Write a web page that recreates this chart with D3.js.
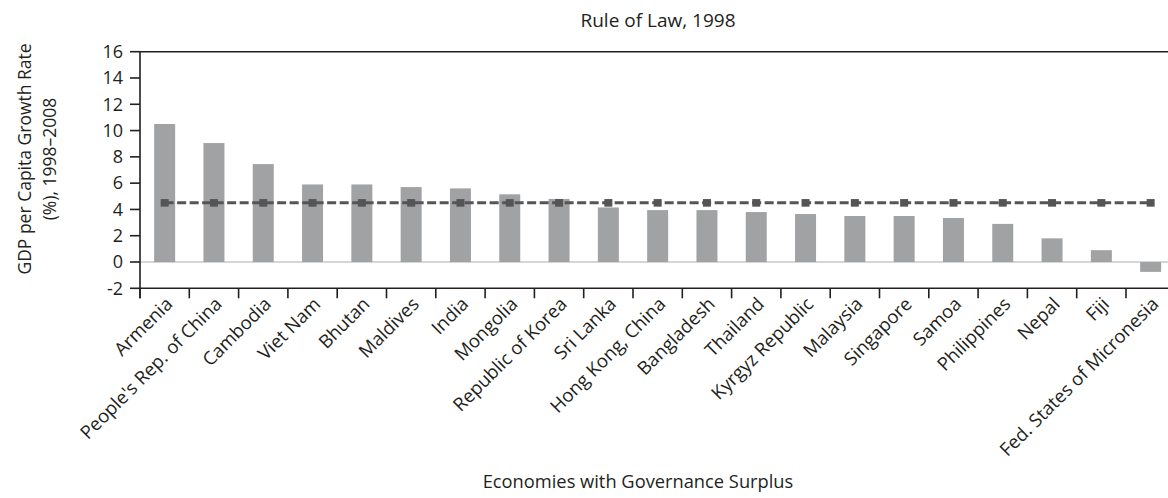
<!DOCTYPE html>
<html>
<head>
<meta charset="utf-8">
<script src="https://cdn.jsdelivr.net/npm/d3@7"></script>
<style>
  html, body { margin: 0; padding: 0; background: #fff; }
  svg { display: block; }
  text { font-family: "Open Sans", "Noto Sans", sans-serif; fill: #231f20; }
</style>
</head>
<body>
<svg id="chart" width="1168" height="498"></svg>
<script>
const categories = ["Armenia", "People's Rep. of China", "Cambodia", "Viet Nam", "Bhutan", "Maldives", "India", "Mongolia", "Republic of Korea", "Sri Lanka", "Hong Kong, China", "Bangladesh", "Thailand", "Kyrgyz Republic", "Malaysia", "Singapore", "Samoa", "Philippines", "Nepal", "Fiji", "Fed. States of Micronesia"];
const growthValues = [10.5, 9.05, 7.45, 5.9, 5.9, 5.7, 5.6, 5.15, 4.8, 4.15, 3.95, 3.95, 3.8, 3.65, 3.5, 3.5, 3.35, 2.9, 1.8, 0.9, -0.75];
const averageValues = [4.5, 4.5, 4.5, 4.5, 4.5, 4.5, 4.5, 4.5, 4.5, 4.5, 4.5, 4.5, 4.5, 4.5, 4.5, 4.5, 4.5, 4.5, 4.5, 4.5, 4.5];
const yTicks = [-2, 0, 2, 4, 6, 8, 10, 12, 14, 16];
const titleText = "Rule of Law, 1998";
const xAxisTitle = "Economies with Governance Surplus";
const yAxisTitle = ["GDP per Capita Growth Rate", "(%), 1998\u20132008"];

const svg = d3.select("#chart");
const plotLeft = 140, plotTop = 51.7, plotBottom = 288.3;
const step = 49.3;
const plotRight = plotLeft + step * categories.length;

const x = d3.scaleBand().domain(categories).range([plotLeft, plotRight]).paddingInner(0.574).paddingOuter(0.287);
const y = d3.scaleLinear().domain([-2, 16]).range([plotBottom, plotTop]);
const stp = x.step();
const boundary = i => plotLeft + i * stp;

const ink = "#231f20";

// zero line
svg.append("line")
  .attr("x1", plotLeft).attr("x2", plotRight)
  .attr("y1", y(0)).attr("y2", y(0))
  .attr("stroke", "#c8c8c8").attr("stroke-width", 1.6);

// bars
svg.append("g").selectAll("rect").data(categories).join("rect")
  .attr("x", d => x(d))
  .attr("width", x.bandwidth())
  .attr("y", (d, i) => y(Math.max(0, growthValues[i])))
  .attr("height", (d, i) => Math.abs(y(growthValues[i]) - y(0)))
  .attr("fill", "#a1a2a4");

// average dashed line
const line = d3.line().x((d, i) => x(categories[i]) + x.bandwidth() / 2).y(d => y(d));
svg.append("path").datum(averageValues)
  .attr("d", line)
  .attr("fill", "none")
  .attr("stroke", "#555557")
  .attr("stroke-width", 3)
  .attr("stroke-dasharray", "9,3.5");
svg.append("g").selectAll("rect").data(averageValues).join("rect")
  .attr("x", (d, i) => x(categories[i]) + x.bandwidth() / 2 - 4)
  .attr("y", d => y(d) - 3.8)
  .attr("width", 8).attr("height", 7.6)
  .attr("fill", "#555557");

// frame: top line, left axis, bottom axis
svg.append("line").attr("x1", plotLeft).attr("x2", plotRight).attr("y1", plotTop).attr("y2", plotTop)
  .attr("stroke", ink).attr("stroke-width", 1.6);
svg.append("line").attr("x1", plotLeft).attr("x2", plotLeft).attr("y1", plotTop - 0.8).attr("y2", plotBottom + 10)
  .attr("stroke", ink).attr("stroke-width", 1.6);
svg.append("line").attr("x1", plotLeft).attr("x2", plotRight).attr("y1", plotBottom).attr("y2", plotBottom)
  .attr("stroke", ink).attr("stroke-width", 1.6);

// y ticks
const yg = svg.append("g");
yg.selectAll("line").data(yTicks).join("line")
  .attr("x1", plotLeft - 10).attr("x2", plotLeft)
  .attr("y1", d => y(d)).attr("y2", d => y(d))
  .attr("stroke", ink).attr("stroke-width", 1.6);
yg.selectAll("text").data(yTicks).join("text")
  .attr("x", plotLeft - 17).attr("y", d => y(d))
  .attr("dy", "0.35em")
  .attr("text-anchor", "end")
  .style("font-size", "18px")
  .text(d => d);

// x ticks at category boundaries
svg.append("g").selectAll("line").data(d3.range(categories.length + 1)).join("line")
  .attr("x1", i => boundary(i)).attr("x2", i => boundary(i))
  .attr("y1", plotBottom).attr("y2", plotBottom + 10)
  .attr("stroke", ink).attr("stroke-width", 1.6);

// category labels
svg.append("g").selectAll("text").data(categories).join("text")
  .attr("transform", d => `translate(${x(d) + x.bandwidth() / 2 + 9},${plotBottom + 17}) rotate(-45)`)
  .attr("text-anchor", "end")
  .style("font-size", "18.5px")
  .text(d => d);

// title
svg.append("text").attr("x", 658).attr("y", 27)
  .attr("text-anchor", "middle").style("font-size", "19px").text(titleText);

// x axis title
svg.append("text").attr("x", 638).attr("y", 488)
  .attr("text-anchor", "middle").style("font-size", "18.3px").text(xAxisTitle);

// y axis title
const yt = svg.append("text")
  .attr("transform", "translate(31,159) rotate(-90)")
  .attr("text-anchor", "middle").style("font-size", "17.5px");
yt.append("tspan").attr("x", 0).attr("y", 0).text(yAxisTitle[0]);
yt.append("tspan").attr("x", 0).attr("y", 25).text(yAxisTitle[1]);
</script>
</body>
</html>
